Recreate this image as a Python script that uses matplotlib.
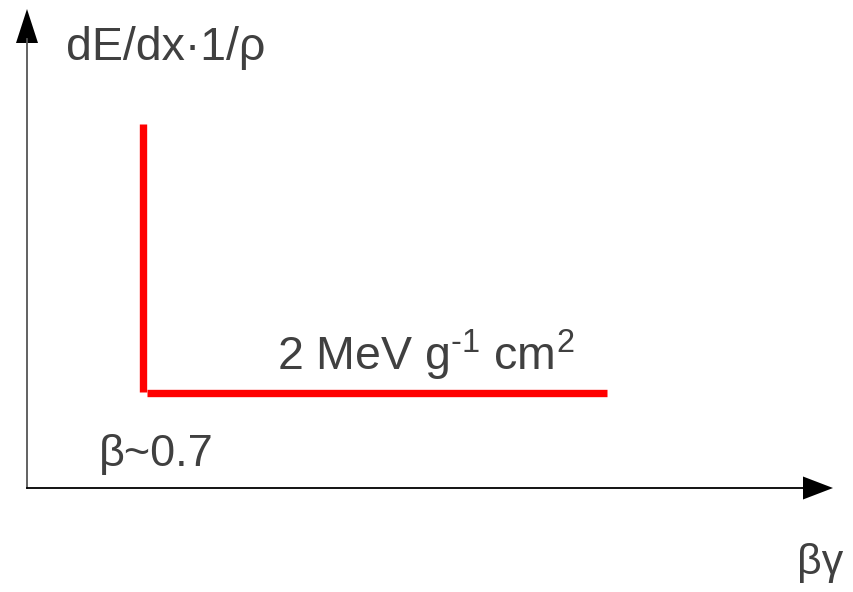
import numpy as np
import matplotlib
matplotlib.use("Agg")
import matplotlib.pyplot as plt

plt.rcParams["mathtext.fontset"] = "custom"
plt.rcParams["mathtext.rm"] = "Liberation Sans"
plt.rcParams["mathtext.default"] = "regular"

# Schematic: Bethe-Bloch minimum (pixel-like units, y grows downward)
rise_x = [143, 143]
rise_y = [124, 392]
plateau_x = [147, 607]
plateau_y = [392.5, 392.5]

axis_origin = (27, 488)
axis_x_end = 833
axis_y_end = 9

ylabel = "dE/dx·1/ρ"
plateau_label = "2 MeV g$^{\u20101}$ cm$^{2}$"
min_label = "β~0.7"
xlabel = "βγ"

fig = plt.figure(figsize=(8.54, 5.92), dpi=100)
ax = fig.add_axes([0, 0, 1, 1])
ax.set_xlim(0, 854)
ax.set_ylim(592, 0)
ax.axis("off")

txt = "#404040"

# axes with arrows
x0, y0 = axis_origin
ax.plot([x0, x0], [y0, axis_y_end + 30], color="#555555", lw=1.3)
ax.plot([x0, axis_x_end - 28], [y0, y0], color="black", lw=1.3)
ax.fill([x0 - 11, x0 + 11, x0], [43, 43, axis_y_end], color="black", lw=0)
ax.fill([803, 803, axis_x_end], [y0 - 11.5, y0 + 11.5, y0], color="black", lw=0)

# red curve
ax.plot(rise_x, rise_y, color="#ff0000", lw=5.3, solid_capstyle="butt")
ax.plot(plateau_x, plateau_y, color="#ff0000", lw=5.3, solid_capstyle="butt")

font = ["Liberation Sans", "DejaVu Sans"]

ax.text(66, 60, ylabel, fontsize=33.5, color=txt, family=font,
        ha="left", va="baseline")
ax.text(277, 370, plateau_label, fontsize=33.5, color=txt, family=font,
        ha="left", va="baseline")
ax.text(99, 466, min_label, fontsize=32.5, color=txt, family=font,
        ha="left", va="baseline")
ax.text(797, 574, xlabel, fontsize=31, color=txt, family=font,
        ha="left", va="baseline")

plt.savefig("out.png", dpi=100)
plt.close()
